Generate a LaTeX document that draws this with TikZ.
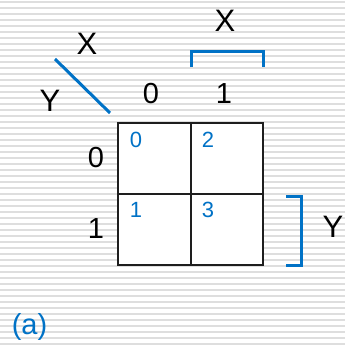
\documentclass[tikz,border=0pt]{standalone}
\usepackage{fontspec}
\setmainfont{Liberation Sans}
\definecolor{kblue}{RGB}{0,114,198}
\definecolor{stripecol}{RGB}{222,222,222}
\definecolor{gridcol}{RGB}{30,30,30}
\begin{document}
\begin{tikzpicture}[x=1pt,y=-1pt,
  big/.style={font=\fontsize{29}{30}\selectfont, inner sep=0pt},
  letter/.style={font=\fontsize{31}{32}\selectfont, inner sep=0pt},
  cellnum/.style={font=\fontsize{22}{24}\selectfont, text=kblue, inner sep=0pt},
  stripe/.style={draw=stripecol, line width=1.6pt},
  bluebar/.style={draw=kblue, line width=3pt},
  gridline/.style={draw=gridcol, line width=2pt}]
\useasboundingbox (0,0) rectangle (345,346);
\fill[white] (0,0) rectangle (345,346);
\foreach \yy in {2,8,...,346} \draw[stripe] (0,\yy) -- (345,\yy);
% grid
\coordinate (gtl) at (118,123);
\coordinate (gbr) at (263,265);
\coordinate (gtm) at (190.5,123);
\coordinate (gbm) at (190.5,265);
\coordinate (gml) at (118,194);
\coordinate (gmr) at (263,194);
\fill[white] (gtl) rectangle (gbr);
\draw[gridline] (gtl) rectangle (gbr);
\draw[gridline] (gtm) -- (gbm);
\draw[gridline] (gml) -- (gmr);
% cell numbers
\node[cellnum] (c0) at (136,140) {0};
\node[cellnum] (c2) at (208,140) {2};
\node[cellnum] (c1) at (136,210) {1};
\node[cellnum] (c3) at (208,210) {3};
% headers
\node[big] (h0) at (151,94) {0};
\node[big] (h1) at (224,94) {1};
\node[big] (r0) at (96,158) {0};
\node[big] (r1) at (96,229) {1};
% top bracket
\coordinate (tb1) at (191,67);
\coordinate (tb2) at (191,51);
\coordinate (tb3) at (263,51);
\coordinate (tb4) at (263,67);
\draw[bluebar] (tb1) -- (tb2) -- (tb3) -- (tb4);
\node[letter] (xtop) at (225,21) {X};
% diagonal
\coordinate (d1) at (55,59);
\coordinate (d2) at (110,113);
\draw[bluebar] (d1) -- (d2);
\node[letter] (xdiag) at (87,44) {X};
\node[letter] (ydiag) at (50,101) {Y};
% right bracket
\coordinate (rb1) at (286,196);
\coordinate (rb2) at (301,196);
\coordinate (rb3) at (301,265);
\coordinate (rb4) at (286,265);
\draw[bluebar] (rb1) -- (rb2) -- (rb3) -- (rb4);
\node[letter] (yright) at (333,227) {Y};
% caption
\node[big, text=kblue] (cap) at (29.5,327) {(a)};
\end{tikzpicture}
\end{document}
